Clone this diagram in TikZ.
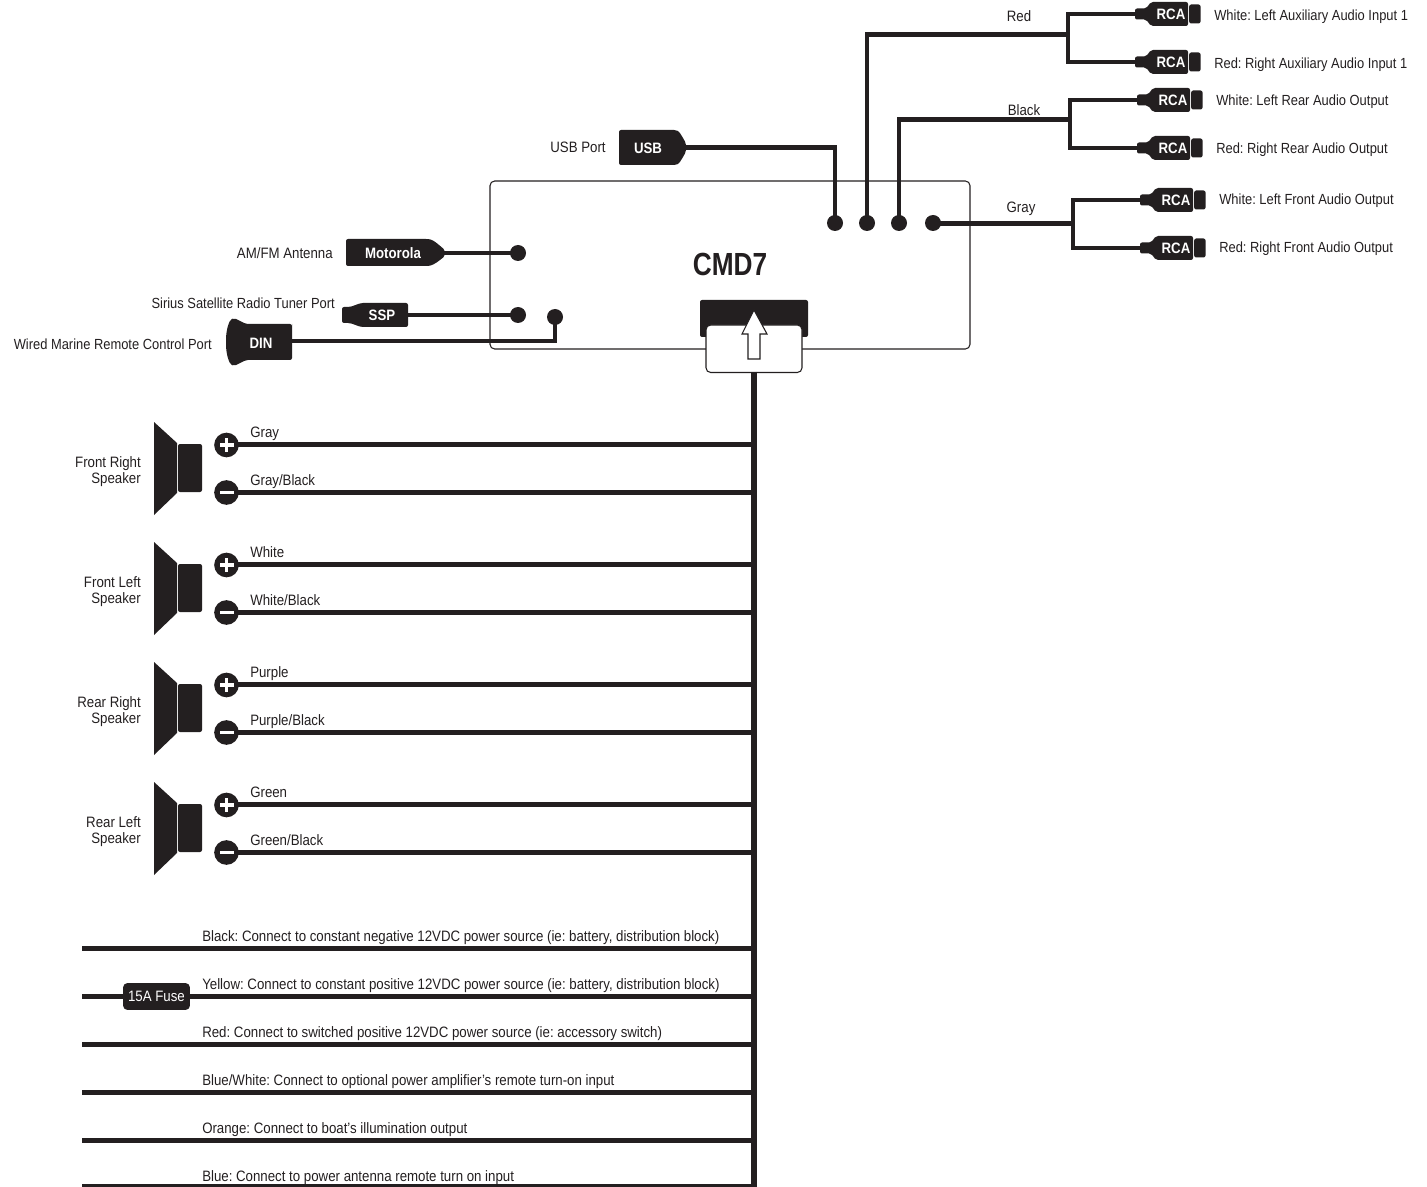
\documentclass[tikz,border=0pt]{standalone}
\usepackage{fontspec}
\setmainfont[FakeStretch=0.88]{Liberation Sans}
\newfontfamily\cmdfont[FakeStretch=0.82]{Liberation Sans}
\definecolor{ink}{HTML}{231F20}
\newcommand{\txtfont}{\fontsize{11.3pt}{12pt}\selectfont\frenchspacing}
\newcommand{\smfont}{\fontsize{11pt}{12pt}\selectfont\frenchspacing}
\tikzset{
  wire/.style={draw=ink,line width=3.3pt,line join=miter},
  trunk/.style={draw=ink,line width=4.2pt},
  pin/.style={circle,fill=ink,inner sep=0pt,minimum size=12pt},
  term/.style={circle,fill=ink,inner sep=0pt,minimum size=18.5pt},
  body/.style={fill=ink,draw=none,rounded corners=1.5pt},
  lab/.style={inner sep=0pt,text=ink,font=\txtfont,text height=8pt,text depth=0pt},
  labl/.style={lab,anchor=west},
  labr/.style={lab,anchor=east},
  labs/.style={font=\smfont},
  tag/.style={inner sep=0pt,text=white,font=\txtfont\bfseries,text height=8pt,text depth=0pt},
  spk/.style={inner sep=0pt,text=ink,align=right,anchor=east,font=\txtfont}
}
\newcommand{\rcaplug}[3]{% name, tip x, y
  \coordinate (#1) at (#2,#3);
  \fill[body] (#2,#3-5.5) -- (#2+11,#3-5.5) -- (#2+16,#3-12) -- (#2+53,#3-12) -- (#2+53,#3+12) -- (#2+16,#3+12) -- (#2+11,#3+5.5) -- (#2,#3+5.5) -- cycle;
  \fill[body] (#2+54.2,#3-9.5) rectangle (#2+65.5,#3+9.5);
  \node[tag] (#1t) at (#2+36,#3) {RCA};
}
\newcommand{\speaker}[4]{% name, y of plus wire, first line, second line
  \fill[ink] (154,#2-22) -- (177,#2-1) -- (177,#2+49) -- (154,#2+71) -- cycle;
  \fill[body] (178,#2) rectangle (202,#2+48);
  \node[spk] (#1n) at (141,#2+27.5) {#3\\#4};
  \coordinate (#1pe) at (754,#2+0.5);
  \coordinate (#1me) at (754,#2+48.5);
  \coordinate (#1ps) at (226,#2+0.5);
  \coordinate (#1ms) at (226,#2+48.5);
  \draw[wire] (#1ps) -- (#1pe);
  \draw[wire] (#1ms) -- (#1me);
  \node[term] (#1p) at (226.5,#2+1) {};
  \node[term] (#1m) at (226.5,#2+48.5) {};
  \fill[white] (219.5,#2-0.8) rectangle (233.5,#2+2.8);
  \fill[white] (224.7,#2-6) rectangle (228.3,#2+8);
  \fill[white] (219.5,#2+46.7) rectangle (233.5,#2+50.3);
}
\begin{document}
\begin{tikzpicture}[x=0.75pt,y=-0.75pt]
\useasboundingbox (0,0) rectangle (1427,1187);

% head unit
\draw[draw=ink,line width=0.8pt,rounded corners=3.5pt] (490,181) rectangle (970,349);
\node[inner sep=0pt,text=ink,font=\fontsize{24pt}{26pt}\cmdfont\bfseries] (cmd) at (730,264) {CMD7};

% harness socket
\fill[body] (700,300) rectangle (808,337);
\draw[draw=ink,fill=white,line width=0.8pt,rounded corners=3.5pt] (706,325) rectangle (802,372.5);
\draw[draw=ink,fill=white,line width=0.8pt] (754,310) -- (767,334) -- (760,334) -- (760,359) -- (748,359) -- (748,334) -- (742,334) -- cycle;
\coordinate (trunkTop) at (754,372);
\coordinate (trunkEnd) at (754,1187);
\draw[trunk] (trunkTop) -- (trunkEnd);

% pins
\node[pin] (pinUsb) at (835,223) {};
\node[pin] (pinRed) at (867,223) {};
\node[pin] (pinBlack) at (899,223) {};
\node[pin] (pinGray) at (933,223) {};
\node[pin] (pinAnt) at (518,253) {};
\node[pin] (pinSsp) at (518,315) {};
\node[pin] (pinDin) at (555,317) {};

% USB
\fill[body] (619,130) -- (676,130) .. controls (680,132) and (684,140) .. (686,143) -- (686,152) .. controls (684,155) and (680,163) .. (676,165) -- (619,165) -- cycle;
\coordinate (usbEnd) at (684,147.5);
\node[tag] (usbT) at (648,148) {USB};
\draw[wire] (usbEnd) -| (pinUsb.center);
\node[lab] (usbL) at (578,147) {USB Port};

% Motorola
\fill[body] (346,239) -- (428,239) .. controls (434,240) and (440,246) .. (445,250) -- (445,256) .. controls (440,260) and (434,265) .. (428,266) -- (346,266) -- cycle;
\coordinate (antEnd) at (442,253);
\node[tag] (antT) at (393,253) {Motorola};
\draw[wire] (antEnd) -- (pinAnt.center);
\node[labr] (antL) at (333,253) {AM/FM Antenna};

% SSP
\fill[body] (342,307) -- (350,307) -- (361,303) -- (408,303) -- (408,327) -- (361,327) -- (350,323) -- (342,323) -- cycle;
\coordinate (sspEnd) at (406,315);
\node[tag] (sspT) at (382,315) {SSP};
\draw[wire] (sspEnd) -- (pinSsp.center);
\node[labr,labs] (sspL) at (335,303) {Sirius Satellite Radio Tuner Port};

% DIN
\fill[ink] (292,326) [rounded corners=1.5pt] -- (292,324) -- (246,324) -- (234,318) .. controls (229,320) and (226,330) .. (226,342) .. controls (226,354) and (229,364) .. (234,366) -- (246,360) -- (292,360) -- cycle;
\coordinate (dinEnd) at (290,341);
\node[tag] (dinT) at (261,343) {DIN};
\draw[wire] (dinEnd) -| (pinDin.center);
\node[labr,labs] (dinL) at (212,344) {Wired Marine Remote Control Port};

% RCA plugs
\rcaplug{a}{1135}{14}
\rcaplug{b}{1135}{62}
\rcaplug{c}{1137}{100}
\rcaplug{d}{1137}{148}
\rcaplug{e}{1140}{200}
\rcaplug{f}{1140}{248}

% Y cables
\coordinate (forkR) at (1068,34.5);
\coordinate (forkB) at (1070,119.5);
\coordinate (forkG) at (1073,223.5);
\draw[wire] (a) -- (1068,14) -- (1068,62) -- (b);
\draw[wire] (c) -- (1070,100) -- (1070,148) -- (d);
\draw[wire] (e) -- (1073,200) -- (1073,248) -- (f);
\draw[wire] (forkR) -| (pinRed.center);
\draw[wire] (forkB) -| (pinBlack.center);
\draw[wire] (forkG) -- (pinGray.center |- forkG);

\node[lab] (cabR) at (1019,16) {Red};
\node[lab] (cabB) at (1024,110) {Black};
\node[lab] (cabG) at (1021,207) {Gray};
\node[labl,labs] (ra) at (1214,15) {White: Left Auxiliary Audio Input 1};
\node[labl,labs] (rb) at (1214,63) {Red: Right Auxiliary Audio Input 1};
\node[labl,labs] (rc) at (1216,100) {White: Left Rear Audio Output};
\node[labl,labs] (rd) at (1216,148) {Red: Right Rear Audio Output};
\node[labl,labs] (re) at (1219,199) {White: Left Front Audio Output};
\node[labl,labs] (rf) at (1219,247) {Red: Right Front Audio Output};

% speakers
\speaker{fr}{444}{Front Right}{Speaker}
\speaker{fl}{564}{Front Left}{Speaker}
\speaker{rr}{684}{Rear Right}{Speaker}
\speaker{rl}{804}{Rear Left}{Speaker}
\node[labl] (l1) at (250,432) {Gray};
\node[labl] (l2) at (250,480) {Gray/Black};
\node[labl] (l3) at (250,552) {White};
\node[labl] (l4) at (250,600) {White/Black};
\node[labl] (l5) at (250,672) {Purple};
\node[labl] (l6) at (250,720) {Purple/Black};
\node[labl] (l7) at (250,792) {Green};
\node[labl] (l8) at (250,840) {Green/Black};

% power wires
\coordinate (p1a) at (82,948.5);  \coordinate (p1b) at (754,948.5);
\coordinate (p2a) at (82,996.5);  \coordinate (p2b) at (754,996.5);
\coordinate (p3a) at (82,1044.5); \coordinate (p3b) at (754,1044.5);
\coordinate (p4a) at (82,1092.5); \coordinate (p4b) at (754,1092.5);
\coordinate (p5a) at (82,1140.5); \coordinate (p5b) at (754,1140.5);
\coordinate (p6a) at (82,1186.5); \coordinate (p6b) at (754,1186.5);
\draw[wire] (p1a) -- (p1b);
\draw[wire] (p2a) -- (p2b);
\draw[wire] (p3a) -- (p3b);
\draw[wire] (p4a) -- (p4b);
\draw[wire] (p5a) -- (p5b);
\draw[wire] (p6a) -- (p6b);
\node[fill=ink,rounded corners=3pt,inner sep=0pt,minimum width=50pt,minimum height=20pt,text=white,font=\txtfont] (fuse) at (156.5,996.5) {15A Fuse};
\node[labl] (t1) at (202,936) {Black: Connect to constant negative 12VDC power source (ie: battery, distribution block)};
\node[labl] (t2) at (202,984) {Yellow: Connect to constant positive 12VDC power source (ie: battery, distribution block)};
\node[labl] (t3) at (202,1032) {Red: Connect to switched positive 12VDC power source (ie: accessory switch)};
\node[labl] (t4) at (202,1080) {Blue/White: Connect to optional power amplifier's remote turn-on input};
\node[labl] (t5) at (202,1128) {Orange: Connect to boat's illumination output};
\node[labl] (t6) at (202,1176) {Blue: Connect to power antenna remote turn on input};
\end{tikzpicture}
\end{document}
